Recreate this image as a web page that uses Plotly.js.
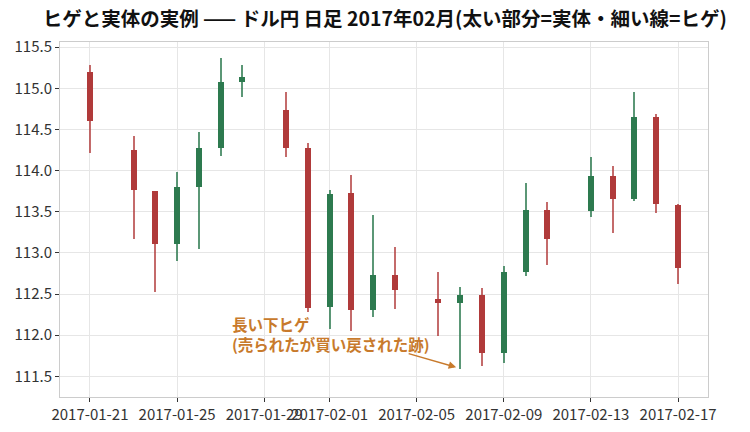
<!DOCTYPE html>
<html>
<head>
<meta charset="utf-8">
<script src="https://cdn.plot.ly/plotly-3.0.1.min.js"></script>
<style>html,body{margin:0;padding:0;background:#fff;}#chart{width:750px;height:432px;}</style>
</head>
<body>
<div id="chart"></div>
<script>
const dates = ['2017-01-21','2017-01-23','2017-01-24','2017-01-25','2017-01-26','2017-01-27','2017-01-28','2017-01-30','2017-01-31','2017-02-01','2017-02-02','2017-02-03','2017-02-04','2017-02-06','2017-02-07','2017-02-08','2017-02-09','2017-02-10','2017-02-11','2017-02-13','2017-02-14','2017-02-15','2017-02-16','2017-02-17'];
const openV  = [115.20,114.25,113.75,113.11,113.80,114.28,115.08,114.74,114.27,112.34,113.73,112.31,112.73,112.44,112.39,112.49,111.78,112.77,113.52,113.51,113.93,113.66,114.65,113.58];
const highV  = [115.28,114.42,113.75,113.98,114.47,115.37,115.28,114.95,114.33,113.76,113.95,113.46,113.07,112.77,112.58,112.57,112.84,113.85,113.62,114.17,114.06,114.96,114.69,113.59];
const lowV   = [114.21,113.17,112.53,112.90,113.05,114.18,114.90,114.17,112.28,112.07,112.05,112.22,112.32,111.99,111.59,111.62,111.66,112.72,112.85,113.44,113.24,113.63,113.48,112.62];
const closeV = [114.60,113.76,113.11,113.80,114.28,115.08,115.14,114.27,112.33,113.72,112.31,112.73,112.55,112.39,112.49,111.78,112.77,113.52,113.17,113.93,113.66,114.65,113.59,112.82];
const tickDates = ['2017-01-21','2017-01-25','2017-01-29','2017-02-01','2017-02-05','2017-02-09','2017-02-13','2017-02-17'];
const titleText = 'ヒゲと実体の実例 —— ドル円 日足 2017年02月(太い部分=実体・細い線=ヒゲ)';
const noteText = '長い下ヒゲ<br>(売られたが買い戻された跡)';

const UP = '#2d7a4f', DOWN = '#b03a3a';
const UPW = 'rgba(45,122,79,0.78)', DOWNW = 'rgba(176,58,58,0.75)';
const DAY = 86400000;
const isUp = closeV.map((c,i)=> c >= openV[i]);

const wick = {
  type:'bar', x:dates, base:lowV, y:highV.map((h,i)=>h-lowV[i]),
  width:dates.map(()=>0.092*DAY),
  marker:{color:isUp.map(u=>u?UPW:DOWNW), line:{width:0}},
  hoverinfo:'skip'
};
const body = {
  type:'bar', x:dates, base:openV.map((o,i)=>Math.min(o,closeV[i])),
  y:openV.map((o,i)=>Math.abs(closeV[i]-o)),
  width:dates.map(()=>0.275*DAY),
  marker:{color:isUp.map(u=>u?UP:DOWN), line:{width:0}},
  hoverinfo:'skip'
};

const layout = {
  width:750, height:432,
  margin:{l:60, r:42, t:42, b:35},
  paper_bgcolor:'#fff', plot_bgcolor:'#fff',
  barmode:'overlay', bargap:0, showlegend:false,
  font:{family:'"Noto Sans CJK JP", "Noto Sans", sans-serif', color:'#333', size:15},
  title:{text:'<b>'+titleText+'</b>', x:0.513, xanchor:'center', y:0.955, yanchor:'middle',
         font:{size:19.5, color:'#111', family:'"Noto Sans CJK JP", sans-serif'}},
  xaxis:{
    type:'date', range:['2017-01-19 15:00','2017-02-18 09:00'],
    tickmode:'array', tickvals:tickDates, ticktext:tickDates, tickangle:0,
    showgrid:true, gridcolor:'#e6e6e6', gridwidth:1,
    ticks:'outside', ticklen:4, tickcolor:'#333', tickwidth:1,
    showline:true, linecolor:'#cccccc', linewidth:1, mirror:true,
    zeroline:false, tickfont:{size:15, color:'#333'}
  },
  yaxis:{
    range:[111.248, 115.563], tickmode:'linear', tick0:111.5, dtick:0.5, tickformat:'.1f',
    showgrid:true, gridcolor:'#e6e6e6', gridwidth:1,
    ticks:'outside', ticklen:4, tickcolor:'#333', tickwidth:1,
    showline:true, linecolor:'#cccccc', linewidth:1, mirror:true,
    zeroline:false, tickfont:{size:15, color:'#333'}
  },
  annotations:[
    {xref:'x', yref:'y', x:'2017-01-27 10:00', y:112.01, xanchor:'left', yanchor:'middle', align:'left',
     showarrow:false, text:'<b>'+noteText+'</b>',
     font:{size:15.5, color:'#c87a2c', family:'"Noto Sans CJK JP", sans-serif'}},
    {xref:'x', yref:'y', x:'2017-02-06 19:30', y:111.61, ax:-49, ay:-14, text:'',
     showarrow:true, arrowhead:2, arrowsize:1, arrowwidth:1.5, arrowcolor:'#c87a2c'}
  ]
};

Plotly.newPlot('chart', [wick, body], layout, {displayModeBar:false, staticPlot:true});
</script>
</body>
</html>
